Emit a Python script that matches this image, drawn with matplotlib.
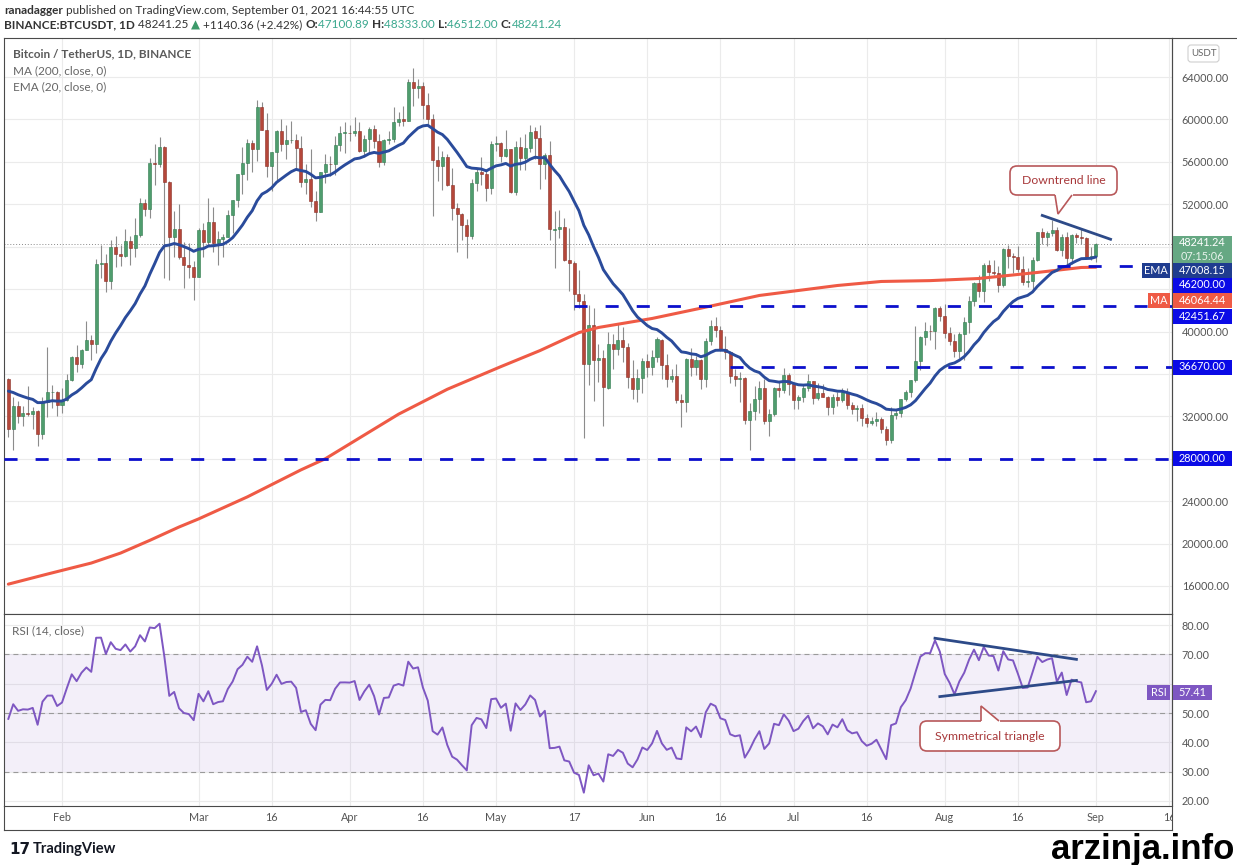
import numpy as np
import pandas as pd
import matplotlib
matplotlib.use('Agg')
import matplotlib.pyplot as plt
import matplotlib.transforms as mtransforms
from matplotlib.patches import Rectangle, FancyBboxPatch, Polygon
from matplotlib.lines import Line2D
from matplotlib.ticker import FuncFormatter

plt.rcParams['font.family'] = ['Lato', 'DejaVu Sans']

# ---- data: BTCUSDT daily, 2021-01-21 .. 2021-09-01 ----
start_date = '2021-01-21'

# closes before the visible range (EMA / RSI warm-up), 2020-12-15 .. 2021-01-20
warmup_close = [19426, 21335, 22797, 23107, 23821, 23455, 22719, 23810, 23232, 23729,
                24712, 26493, 26281, 27079, 27385, 28875, 28923,
                29331, 32178, 33000, 31988, 33949, 36770, 39432, 40583, 40240, 38240,
                35545, 34012, 37393, 39158, 36828, 36065, 35793, 36632, 36018, 35547]

opens = [
    35510, 30818, 33005, 32064, 32285, 32259, 32464, 30366, 33369, 34252, 34262,
    33093, 33518, 35467, 37619, 36936, 38290, 39181, 38795, 46374, 46420, 44807, 47969, 47288, 47153,
    48577, 47911, 49133, 52117, 51553, 55906, 55841, 57412, 54088, 48891, 49676, 47073, 46277, 46103,
    45134, 49595, 48436, 50349, 48374, 48747, 48882, 50959, 52375, 54874, 55851, 57773, 57222, 61188,
    58976, 55605, 56901, 58912, 57641, 58030, 58100, 57351, 54084, 54342, 52303, 51293, 55026, 55817,
    55782, 57628, 58731,
    58740, 58721, 58950, 57051, 58203, 59130, 57991, 55953, 58077, 58142, 59770, 60003, 59861, 63575,
    62960, 63159, 61334, 60006, 56150, 55634, 56425, 53788, 51690, 51111, 50047, 49005, 54022, 55034,
    54825, 53556,
    57714, 57798, 56578, 57172, 53200, 57436, 56393, 57316, 58866, 58240, 55816, 56670, 49538, 49672,
    49841, 46705, 46427, 43539, 42910, 36966, 40596, 37304, 37536, 34700, 38795, 38324, 39241, 38529,
    35661, 34605, 35642,
    37253, 36694, 37568, 39246, 36851, 35520, 35796, 33556, 33381, 37389, 36697, 37340, 35552, 39097,
    40519, 40157, 38348, 38093, 35820, 35483, 35601, 31614, 32510, 33676, 34664, 31577, 32243, 34700,
    34494, 35911,
    35045, 33502, 33786, 34669, 35288, 33690, 34220, 33863, 32875, 33816, 33503, 34259, 33087, 32730,
    32820, 31874, 31384, 31520, 31779, 30839, 29790, 32145, 32287, 33635, 34261, 35381, 37241, 39456,
    40019, 40018, 42206,
    41461, 39850, 39147, 38207, 39723, 40862, 42836, 44614, 43792, 46281, 45595, 45555, 44428, 47793,
    47097, 47019, 45937, 44687, 44741, 46760, 49339, 48906, 49321, 49546, 47707, 48960, 46942, 49059,
    48897, 48807, 46991,
    47100.89]

highs = [
    35600, 33826, 33456, 32944, 34875, 32921, 32557, 33783, 38531, 34934, 34342,
    34717, 35984, 37662, 38709, 38310, 40955, 39700, 46794, 48200, 47310, 48678, 48985, 48150, 49707,
    49011, 50689, 52618, 52530, 56368, 57700, 58352, 57508, 54183, 51374, 52041, 48424, 48394, 46638,
    49790, 50200, 52640, 51773, 49448, 49200, 51450, 52402, 54895, 57387, 58150, 58058, 61844, 61683,
    60633, 56938, 58970, 60000, 59468, 59880, 58589, 58430, 55830, 57200, 53230, 55073, 56700, 56559,
    58405, 59368, 59800,
    59490, 60200, 59791, 58500, 59251, 59474, 58650, 58153, 58894, 61220, 60699, 61300, 63777, 64854,
    63800, 63520, 62506, 60499, 57526, 57040, 56757, 55410, 52120, 51166, 50567, 54356, 55460, 56428,
    55200, 58000,
    58458, 57911, 58981, 57200, 57964, 58360, 58650, 59500, 59300, 59500, 56862, 58000, 51330, 51483,
    50700, 49789, 46643, 45799, 43546, 42536, 42200, 38829, 38270, 39920, 39791, 40841, 40411, 38877,
    37338, 36488, 37499,
    37894, 38225, 39476, 39289, 37917, 36480, 36900, 34068, 37534, 38491, 37680, 37436, 39380, 41064,
    41330, 40528, 39559, 38202, 36457, 36137, 35750, 33298, 34881, 35298, 35500, 32700, 34749, 35297,
    36600, 36100,
    35057, 33977, 34945, 35967, 35293, 35118, 35059, 33920, 34100, 34262, 34666, 34678, 33341, 33114,
    33185, 32249, 31935, 32435, 31899, 31063, 32858, 32591, 33650, 34500, 35398, 40550, 39542, 40900,
    40640, 42316, 42448,
    42599, 40459, 39780, 39969, 41350, 43392, 44700, 45310, 46454, 46700, 46743, 46218, 47886, 48144,
    47372, 48053, 47160, 46000, 47033, 49382, 49757, 49500, 50500, 49860, 49230, 49343, 49183, 49309,
    49667, 48928, 48000,
    48333.00]

lows = [
    30071, 28850, 31390, 31106, 32000, 30837, 29241, 29842, 31915, 32826, 32001,
    32297, 33418, 35362, 36161, 36571, 38215, 37351, 37988, 45020, 43727, 43995, 46125, 46202, 47014,
    46300, 47003, 48947, 50901, 50710, 53863, 55477, 45000, 44892, 47004, 46875, 44106, 45000, 43000,
    45115, 47047, 48100, 47500, 46300, 47070, 48882, 49274, 51789, 53005, 54272, 55013, 56078, 58963,
    54600, 53271, 54123, 57023, 56270, 57820, 55450, 53650, 53000, 51700, 50427, 51283, 53961, 54691,
    54800, 57000, 56873,
    57935, 58435, 56956, 56478, 56800, 57333, 55473, 55700, 57654, 57903, 59344, 59370, 59861, 61301,
    62020, 60000, 59580, 50931, 54221, 53329, 53695, 50500, 47500, 48658, 46930, 48753, 53222, 53813,
    52330, 53013,
    57052, 56035, 56435, 53046, 52900, 55200, 55241, 56956, 56235, 53400, 54370, 48600, 46000, 48805,
    46650, 43825, 42001, 42250, 30000, 35000, 33488, 35200, 31111, 34551, 36420, 37800, 37134, 34685,
    33632, 33379, 34154,
    35666, 35920, 37170, 35555, 34800, 35258, 33300, 31000, 32397, 35782, 35936, 34600, 34757, 38730,
    39506, 38118, 37365, 35129, 34833, 33336, 31251, 28805, 31683, 32286, 31275, 30151, 32071, 33862,
    34225, 34017,
    32711, 32699, 33316, 34357, 33125, 33532, 33777, 32100, 32261, 33004, 33307, 32658, 32202, 31550,
    31133, 31020, 31178, 31108, 30407, 29278, 29482, 31708, 31924, 33401, 33851, 35205, 36383, 38772,
    39200, 38313, 41000,
    39422, 38690, 37642, 37508, 37332, 39853, 42450, 43261, 42779, 44723, 45341, 43770, 44218, 45971,
    45500, 45660, 44376, 44203, 43955, 46622, 48274, 48050, 49029, 47600, 47119, 46315, 46371, 48370,
    48298, 46850, 46712,
    46512.00]

closes = [
    30826, 33005, 32067, 32289, 32254, 32467, 30366, 33364, 34252, 34262, 33092,
    33526, 35467, 37618, 36936, 38290, 39186, 38795, 46374, 46420, 44807, 47969, 47287, 47153, 48577,
    47911, 49133, 52119, 51552, 55906, 55841, 57408, 54088, 48891, 49676, 47073, 46277, 46106, 45135,
    49587, 48440, 50349, 48374, 48751, 48882, 50971, 52375, 54884, 55851, 57773, 57221, 61188, 58968,
    55605, 56900, 58912, 57648, 58030, 58102, 57351, 54083, 54341, 52303, 51293, 55025, 55817, 55777,
    57628, 58730, 58741,
    58720, 58950, 57051, 58202, 59129, 57991, 55953, 58077, 58142, 59770, 60007, 59861, 63575, 62959,
    63159, 61334, 60006, 56150, 55633, 56425, 53787, 51690, 51125, 50047, 49004, 54021, 55034, 54825,
    53556, 57697,
    57798, 56578, 57169, 53200, 57436, 56393, 57314, 58862, 58240, 55816, 56670, 49631, 49671, 49841,
    46708, 46426, 43538, 42910, 36965, 40597, 37304, 37536, 34770, 38796, 38324, 39241, 38529, 35664,
    34605, 35641, 37254,
    36694, 37568, 39247, 36856, 35520, 35796, 33552, 33380, 37389, 36694, 37340, 35551, 39097, 40519,
    40162, 38347, 38093, 35820, 35483, 35600, 31608, 32509, 33678, 34664, 31594, 32243, 34700, 34494,
    35911, 35045,
    33504, 33786, 34669, 35287, 33690, 34220, 33863, 32875, 33815, 33503, 34259, 33086, 32730, 32820,
    31880, 31383, 31520, 31778, 30839, 29790, 32144, 32287, 33634, 34258, 35381, 37237, 39457, 40019,
    40016, 42206, 41461,
    39846, 39147, 38207, 39723, 40862, 42836, 44614, 43792, 46285, 45595, 45555, 44428, 47793, 47097,
    47019, 45936, 44686, 44741, 46760, 49339, 48905, 49321, 49546, 47706, 48960, 46942, 49058, 48897,
    48807, 46991, 47101,
    48241.24]

# MA(200)
ma_dates = ['2021-01-21', '2021-01-29', '2021-02-07', '2021-02-13', '2021-02-19', '2021-02-25',
            '2021-03-01', '2021-03-11', '2021-03-22', '2021-03-27', '2021-04-01', '2021-04-11',
            '2021-04-21', '2021-05-02', '2021-05-10', '2021-05-18', '2021-05-22', '2021-06-02',
            '2021-06-12', '2021-06-24', '2021-07-10', '2021-07-19', '2021-07-29', '2021-08-08',
            '2021-08-20', '2021-08-29', '2021-09-01']
ma_values = [16170, 17120, 18160, 19100, 20300, 21560, 22320, 24400, 26950, 28000, 29400, 32200,
             34550, 36690, 38200, 39900, 40380, 41230, 42200, 43400, 44340, 44720, 44800, 45000,
             45570, 46040, 46064.44]

# values printed on the price / RSI scales
ema_last = 47008.15
rsi_last = 57.41

# horizontal levels drawn on the chart
level_prices = [28000.00, 42451.67, 36670.00, 46200.00]
level_from = ['2021-01-01', '2021-05-17', '2021-06-18', '2021-08-24']

# trend lines
downtrend_dates = ['2021-08-21', '2021-09-04']
downtrend_prices = [50950, 48700]
rsi_upper_dates = ['2021-07-30', '2021-08-28']
rsi_upper_vals = [75.5, 68.3]
rsi_lower_dates = ['2021-07-31', '2021-08-28']
rsi_lower_vals = [55.6, 61.1]

tick_dates = ['2021-02-01', '2021-03-01', '2021-03-16', '2021-04-01', '2021-04-16', '2021-05-01',
              '2021-05-17', '2021-06-01', '2021-06-16', '2021-07-01', '2021-07-16', '2021-08-01',
              '2021-08-16', '2021-09-01', '2021-09-16']
tick_labels = ['Feb', 'Mar', '16', 'Apr', '16', 'May', '17', 'Jun', '16', 'Jul', '16', 'Aug', '16',
               'Sep', '16']

# scale labels hidden behind the coloured tags
hidden_price_ticks = [48000, 44000, 36000, 28000]
hidden_rsi_ticks = [60]

# ---- derived ----
t0 = pd.Timestamp(start_date)
def day(d):
    return (pd.Timestamp(d) - t0).days

o = np.array(opens, float)
h = np.array(highs, float)
l = np.array(lows, float)
c = np.array(closes, float)
x = np.arange(len(c))

allc = pd.Series(warmup_close + closes, dtype=float)
ema = allc.ewm(span=20, adjust=False).mean().values[-len(c):]
dlt = allc.diff()
up = dlt.clip(lower=0).ewm(alpha=1/14, adjust=False).mean()
dn = (-dlt.clip(upper=0)).ewm(alpha=1/14, adjust=False).mean()
rsi = (100 - 100 / (1 + up / dn)).values[-len(c):]

# ---- figure ----
W, H = 1237, 865
fig = plt.figure(figsize=(W / 100, H / 100), dpi=100)
fig.patch.set_facecolor('white')
pix = mtransforms.Affine2D().scale(1.0 / W, 1.0 / H) + fig.transFigure

def px_axes(left, top, right, bottom, **kw):
    return fig.add_axes([left / W, 1 - bottom / H, (right - left) / W, (bottom - top) / H], **kw)

x0_px, step_px = 8.35, 4.877
xmin = (4 - x0_px) / step_px
xmax = (1172 - x0_px) / step_px

ax = px_axes(4, 38, 1172, 614)
axr = px_axes(4, 614, 1172, 806, sharex=ax)

frame_col = '#4a4a4a'
grid_col = '#ebebeb'
tick_pos = [day(d) for d in tick_dates]

def fmt_skip(hidden):
    return FuncFormatter(lambda v, p: '' if any(abs(v - hv) < 1e-6 for hv in hidden) else f'{v:.2f}')

for a in (ax, axr):
    a.set_facecolor('white')
    for s in a.spines.values():
        s.set_color(frame_col)
        s.set_linewidth(0.8)
    a.yaxis.tick_right()
    a.tick_params(axis='y', length=0, pad=7, labelsize=7.8, labelcolor='#555555')
    a.tick_params(axis='x', length=0)
    for tp in tick_pos:
        a.axvline(tp, color=grid_col, lw=0.8, zorder=0)

ax.set_xlim(xmin, xmax)
ax.set_ylim(13354, 67685)
ax.set_yticks(np.arange(16000, 64001, 4000))
ax.yaxis.set_major_formatter(fmt_skip(hidden_price_ticks))
for yv in np.arange(16000, 64001, 4000):
    ax.axhline(yv, color=grid_col, lw=0.8, zorder=0)
ax.tick_params(axis='x', labelbottom=False)

# candles
up_col, dn_col = '#4f9d6e', '#b5473a'
up_edge, dn_edge = '#2f7a4c', '#8a2f26'
is_up = c >= o
ax.vlines(x, l, h, color='#8c8c8c', lw=0.8, zorder=2)
ax.bar(x, np.maximum(np.abs(c - o), 45), bottom=np.minimum(o, c), width=0.62,
       color=np.where(is_up, up_col, dn_col), edgecolor=np.where(is_up, up_edge, dn_edge),
       linewidth=0.4, zorder=3)

# moving averages
ax.plot([day(d) for d in ma_dates], ma_values, color='#ef5a45', lw=2.2, zorder=4,
        solid_capstyle='round', solid_joinstyle='round')
ax.plot(x, ema, color='#2a4b9b', lw=2.1, zorder=4, solid_capstyle='round')

# last price dotted line
ax.axhline(c[-1], color='#8a8a8a', lw=0.7, ls=(0, (1, 2)), zorder=2)

# horizontal levels
for p, d in zip(level_prices, level_from):
    xs = max(day(d), xmin)
    ax.plot([xs, xmax], [p, p], color='#0c10cc', lw=2.0, dashes=(4.7, 6.5), zorder=5,
            solid_capstyle='butt', dash_capstyle='butt')

# downtrend line
ax.plot([day(d) for d in downtrend_dates], downtrend_prices, color='#2d4a88', lw=2.0, zorder=6)

# legend texts
ax.text(9 / 1168, 1 - 16 / 576, 'Bitcoin / TetherUS, 1D, BINANCE', transform=ax.transAxes,
        fontsize=8.5, fontweight='bold', color='#5a5a5a', va='center', ha='left')
ax.text(9 / 1168, 1 - 33 / 576, 'MA (200, close, 0)', transform=ax.transAxes,
        fontsize=8.5, color='#666666', va='center', ha='left')
ax.text(9 / 1168, 1 - 49 / 576, 'EMA (20, close, 0)', transform=ax.transAxes,
        fontsize=8.5, color='#666666', va='center', ha='left')

# ---- RSI pane ----
axr.set_ylim(18.29, 83.77)
axr.set_yticks(np.arange(20, 81, 10))
axr.yaxis.set_major_formatter(fmt_skip(hidden_rsi_ticks))
for yv in np.arange(20, 81, 10):
    axr.axhline(yv, color=grid_col, lw=0.8, zorder=0)
axr.axhspan(30, 70, color='#7e57c2', alpha=0.09, lw=0, zorder=0)
for lv in (70, 50, 30):
    axr.axhline(lv, color='#9a9a9a', lw=0.8, dashes=(4.5, 3.5), zorder=1)
axr.plot(x, rsi, color='#7e57c2', lw=1.4, zorder=4)
axr.plot([day(d) for d in rsi_upper_dates], rsi_upper_vals, color='#2d4a88', lw=2.0, zorder=5)
axr.plot([day(d) for d in rsi_lower_dates], rsi_lower_vals, color='#2d4a88', lw=2.0, zorder=5)
axr.text(8 / 1168, 1 - 17 / 192, 'RSI (14, close)', transform=axr.transAxes,
         fontsize=8.5, color='#666666', va='center', ha='left')
axr.set_xticks(tick_pos)
axr.set_xticklabels(tick_labels)
axr.tick_params(axis='x', labelsize=7.8, labelcolor='#555555', pad=4)

# ---- frame pieces outside axes ----
def fline(xs, ys, **kw):
    fig.add_artist(Line2D(xs, [H - yy for yy in ys], transform=pix, **kw))

fline([4, 4], [806, 830], color=frame_col, lw=0.8)
fline([4, 1172], [830, 830], color=frame_col, lw=0.8)
fline([1172, 1172], [38, 830], color=frame_col, lw=0.8, zorder=6)
fline([1172, 1237], [38, 38], color=frame_col, lw=0.8)
# hide time labels that run into the price scale
fig.add_artist(Rectangle((1172.6, H - 829), 64, 22, transform=pix, fc='white', ec='none', zorder=5))

# ---- price scale tags ----
def tag(x0, x1, yc, txt, col, hgt=15, size=7.8, txtcol='white'):
    fig.add_artist(Rectangle((x0, H - yc - hgt / 2), x1 - x0, hgt, transform=pix,
                             fc=col, ec='none', zorder=7))
    fig.text((x0 + x1) / 2, H - yc, txt, transform=pix, color=txtcol, fontsize=size,
             ha='center', va='center', zorder=8)

lvl_blue = '#0b0be6'
fig.add_artist(Rectangle((1173, H - 264), 59, 28, transform=pix, fc='#66a883', ec='none', zorder=7))
fig.text(1202.5, H - 243, f'{c[-1]:.2f}', transform=pix, color='white', fontsize=7.8,
         ha='center', va='center', zorder=8)
fig.text(1202.5, H - 256, '07:15:06', transform=pix, color='#e8f3ec', fontsize=7.8,
         ha='center', va='center', zorder=8)
tag(1173, 1232, 270, f'{ema_last:.2f}', '#1f3c8f')
tag(1142, 1170, 270, 'EMA', '#1f3c8f')
tag(1173, 1232, 285, f'{level_prices[3]:.2f}', lvl_blue)
tag(1173, 1232, 300, f'{ma_values[-1]:.2f}', '#ef5a45')
tag(1148, 1170, 300, 'MA', '#ef5a45')
tag(1173, 1232, 316, f'{level_prices[1]:.2f}', lvl_blue)
tag(1173, 1232, 367, f'{level_prices[2]:.2f}', lvl_blue)
tag(1173, 1232, 458, f'{level_prices[0]:.2f}', lvl_blue)
tag(1173, 1212, 692, f'{rsi_last:.2f}', '#7e57c2')
tag(1147, 1170, 692, 'RSI', '#7e57c2')

fig.add_artist(FancyBboxPatch((1188, H - 62), 31, 17, transform=pix,
                              boxstyle='round,pad=0,rounding_size=3', fc='white', ec='#cfcfcf',
                              lw=0.8, zorder=7))
fig.text(1203.5, H - 53.5, 'USDT', transform=pix, color='#666666', fontsize=7, ha='center',
         va='center', zorder=8)

# ---- callouts ----
def callout(box, base_l, base_r, apex, txt, below):
    left, top, right, bottom = box
    ec = '#b8585a'
    fig.add_artist(FancyBboxPatch((left, H - bottom), right - left, bottom - top, transform=pix,
                                  boxstyle='round,pad=0,rounding_size=7', fc='white', ec=ec,
                                  lw=1.2, zorder=9))
    by = bottom if below else top
    fig.add_artist(Line2D([base_l + 1.2, base_r - 1.2], [H - by, H - by], transform=pix,
                          color='white', lw=2.2, zorder=10))
    fig.add_artist(Polygon([(base_l, H - by), (apex[0], H - apex[1]), (base_r, H - by)],
                           closed=False, transform=pix, fc='white', ec=ec, lw=1.2, zorder=10))
    fig.text((left + right) / 2, H - (top + bottom) / 2, txt, transform=pix, color='#a8393b',
             fontsize=8.8, ha='center', va='center', zorder=11)

callout((1010, 166, 1117, 195), 1055, 1072, (1058, 214), 'Downtrend line', True)
callout((920, 721, 1060, 751), 981, 999, (981, 706), 'Symmetrical triangle', False)

# ---- header ----
def row(xp, yp, parts, size=8.5):
    r = fig.canvas.get_renderer()
    for s, col, wt in parts:
        t = fig.text(xp, H - yp, s, transform=pix, color=col, fontweight=wt, fontsize=size,
                     ha='left', va='center')
        xp += t.get_window_extent(r).width

dark = '#333333'
teal = '#3aa88e'
row(4, 10, [('ranadagger', dark, 'bold'),
            (' published on TradingView.com, September 01, 2021 16:44:55 UTC', dark, 'normal')])
row(4, 25, [('BINANCE:BTCUSDT, 1D', dark, 'bold'), (' 48241.25 ', dark, 'normal'),
            ('▲', '#3d9a6a', 'normal'), (' +1140.36 (+2.42%) ', dark, 'normal'),
            ('O:', dark, 'bold'), ('47100.89 ', teal, 'normal'),
            ('H:', dark, 'bold'), ('48333.00 ', teal, 'normal'),
            ('L:', dark, 'bold'), ('46512.00 ', teal, 'normal'),
            ('C:', dark, 'bold'), ('48241.24', teal, 'normal')])

# ---- footer ----
fig.text(9, H - 849, '17', transform=pix, fontsize=11, fontweight='heavy', color='#131722',
         family='DejaVu Sans', ha='left', va='center')
fig.text(33, H - 849, 'TradingView', transform=pix, fontsize=10.5, fontweight='bold',
         color='#131722', ha='left', va='center')
fig.text(1234, H - 849, 'arzinja.info', transform=pix, fontsize=25, fontweight='bold',
         color='black', family='Liberation Sans', ha='right', va='center')

fig.savefig('out.png', dpi=100)
